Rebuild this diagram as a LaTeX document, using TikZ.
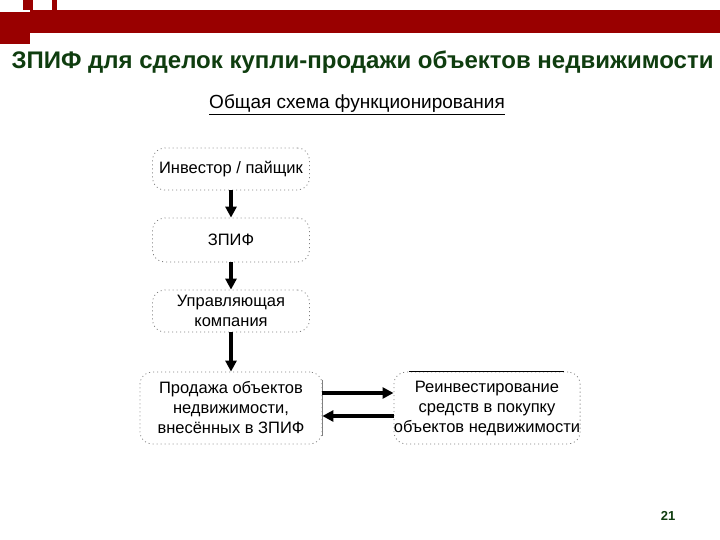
\documentclass[tikz,border=0pt]{standalone}
\usepackage{fontspec}
\setmainfont{Liberation Sans}
\usetikzlibrary{arrows.meta}
\definecolor{hdr}{HTML}{990000}
\definecolor{ttl}{HTML}{0F3D0F}
\begin{document}
\begin{tikzpicture}[x=1pt,y=-1pt,
 box/.style={draw=gray,dash pattern=on 1pt off 3pt,line width=0.8pt,rounded corners=12pt,align=center,font=\fontsize{16.5}{20}\selectfont,inner sep=0pt},
 arr/.style={-{Triangle[length=11pt,width=11pt]},line width=3.2pt}]
\useasboundingbox (0,0) rectangle (720,540);
\fill[white] (0,0) rectangle (720,540);
\fill[hdr] (30,10) rectangle (720,33);
\fill[hdr] (0,12) rectangle (30,44);
\fill[hdr] (23,0) rectangle (33,10);
\fill[hdr] (52,0) rectangle (57,10);
\node[anchor=west,text=ttl,font=\bfseries\fontsize{24}{28}\selectfont] (t) at (8,62) {ЗПИФ для сделок купли-продажи объектов недвижимости};
\node[font=\fontsize{19}{22}\selectfont] (s) at (357,105) {\underline{Общая схема функционирования}};
\node[box,minimum width=157pt,minimum height=42pt] (b1) at (231,169) {Инвестор / пайщик};
\node[box,minimum width=157pt,minimum height=44pt] (b2) at (231,240) {ЗПИФ};
\node[box,minimum width=157pt,minimum height=42pt] (b3) at (231,311) {Управляющая\\компания};
\node[box,minimum width=182pt,minimum height=72pt] (b4) at (231,408) {Продажа объектов\\недвижимости,\\внесённых в ЗПИФ};
\node[box,minimum width=185pt,minimum height=72pt] (b5) at (487,408) {Реинвестирование\\средств в покупку\\объектов недвижимости};
\draw[gray] (b4.north east)++(0,8) -- ++(0,56);
\draw (b5.north west)++(15,0) -- ++(155,0);
\draw[arr] (b1) -- (b2);
\draw[arr] (b2) -- (b3);
\draw[arr] (b3) -- (b4);
\draw[arr] ([yshift=15pt]b4.east) -- ([yshift=15pt]b5.west);
\draw[arr] ([yshift=-8pt]b5.west) -- ([yshift=-8pt]b4.east);
\node[text=ttl,font=\bfseries\fontsize{13}{15}\selectfont] (p) at (668,516) {21};
\end{tikzpicture}
\end{document}
